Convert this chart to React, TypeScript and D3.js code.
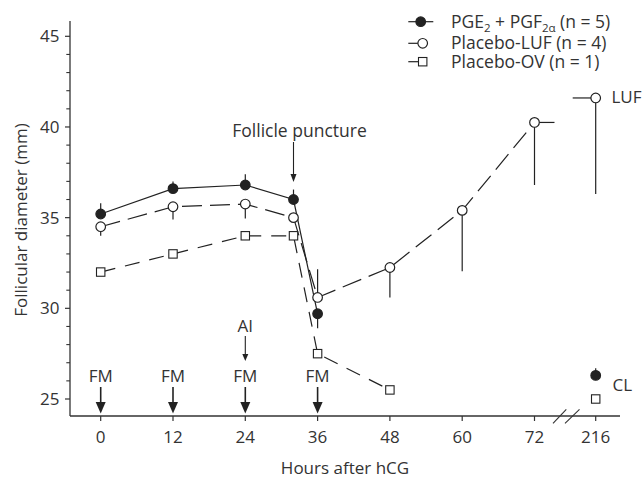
import React from "react";
import * as d3 from "d3";

// ---- data ----
const tickHours = [0, 12, 24, 36, 48, 60, 72, 216];
const yMajor = [25, 30, 35, 40, 45];

const pgeHours = [0, 12, 24, 32, 36, 216];
const pgeMean = [35.2, 36.6, 36.8, 36.0, 29.7, 26.3];
const pgeErr = [35.8, 37.0, 37.4, 36.55, 28.9, 26.7];
const pgeConnected = 5;

const lufHours = [0, 12, 24, 32, 36, 48, 60, 72, 216];
const lufMean = [34.5, 35.6, 35.75, 35.0, 30.6, 32.25, 35.4, 40.25, 41.6];
const lufErr = [34.0, 34.9, 34.95, 35.0, 32.15, 30.6, 32.05, 36.8, 36.3];
const lufConnected = 8;

const ovHours = [0, 12, 24, 32, 36, 48, 216];
const ovMean = [32.0, 33.0, 34.0, 34.0, 27.5, 25.5, 25.0];
const ovConnected = 6;

const fmHours = [0, 12, 24, 36];
const aiHour = 24;
const punctureHour = 32;

const seriesLabels = ["Placebo-LUF (n = 4)", "Placebo-OV (n = 1)"];

// ---- layout ----
const W = 642, H = 480;
const axisX = 70, axisTop = 21, axisY = 416, axisRight = 620;
const INK = "#222";
const TXT = "#333";
const FONT = "'Open Sans', 'Noto Sans', sans-serif";

const x = d3.scaleLinear().domain([0, 72, 216]).range([100.7, 534.5, 595.7]);
const y = d3.scaleLinear().domain([25, 45]).range([399, 36.3]);

export default function App() {
  const line = d3.line<[number, number]>().x(d => x(d[0])).y(d => y(d[1]));
  const pts = (hs: number[], ms: number[], n: number) =>
    hs.slice(0, n).map((h, i) => [h, ms[i]] as [number, number]);

  const minor = d3.range(25, 46, 1).filter(v => v % 5 !== 0);

  const circle = (cx: number, cy: number, filled: boolean, key: string) => (
    <circle key={key} cx={cx} cy={cy} r={4.8} fill={filled ? INK : "#fff"} stroke={INK} strokeWidth={1.2} />
  );
  const square = (cx: number, cy: number, key: string) => (
    <rect key={key} x={cx - 4.2} y={cy - 4.2} width={8.4} height={8.4} fill="#fff" stroke={INK} strokeWidth={1.1} />
  );

  const lufLast = lufHours.length - 1;

  return (
    <svg width={W} height={H} style={{ display: "block", position: "absolute", left: 0, top: 0 }} fontFamily={FONT}>
      <rect width={W} height={H} fill="#fff" />
      {/* y axis */}
      <line x1={axisX} x2={axisX} y1={axisTop} y2={axisY} stroke={TXT} strokeWidth={1.3} />
      {yMajor.map(v => (
        <g key={"ym" + v}>
          <line x1={axisX - 5} x2={axisX} y1={y(v)} y2={y(v)} stroke={TXT} strokeWidth={1.2} />
          <text x={59.5} y={y(v)} dy="0.36em" textAnchor="end" fontSize={17} fill={TXT}>{v}</text>
        </g>
      ))}
      {minor.map(v => (
        <line key={"yn" + v} x1={axisX - 3.7} x2={axisX} y1={y(v)} y2={y(v)} stroke={TXT} strokeWidth={1.1} />
      ))}
      <text transform={`translate(21,220) rotate(-90)`} textAnchor="middle" dy="0.36em" fontSize={17} fill={TXT}>
        Follicular diameter (mm)
      </text>

      {/* x axis */}
      <line x1={axisX} x2={axisRight} y1={axisY} y2={axisY} stroke={TXT} strokeWidth={1.3} />
      {tickHours.map(h => (
        <g key={"xt" + h}>
          <line x1={x(h)} x2={x(h)} y1={axisY} y2={axisY + 5} stroke={TXT} strokeWidth={1.2} />
          <text x={x(h)} y={443} textAnchor="middle" fontSize={17} fill={TXT}>{h}</text>
        </g>
      ))}
      {/* axis break */}
      <line x1={553} y1={423.3} x2={566.3} y2={409.3} stroke={TXT} strokeWidth={1.1} />
      <line x1={565} y1={423.3} x2={579.5} y2={409.3} stroke={TXT} strokeWidth={1.1} />
      <text x={345} y={474} textAnchor="middle" fontSize={17} fill={TXT}>Hours after hCG</text>

      {/* annotations */}
      {fmHours.map(h => (
        <g key={"fm" + h}>
          <text x={x(h)} y={382} textAnchor="middle" fontSize={17} fill={TXT}>FM</text>
          <line x1={x(h)} x2={x(h)} y1={387} y2={404} stroke={INK} strokeWidth={1.6} />
          <path d={`M${x(h) - 5},402 L${x(h) + 5},402 L${x(h)},413.5 Z`} fill={INK} />
        </g>
      ))}
      <text x={x(aiHour)} y={332} textAnchor="middle" fontSize={17} fill={TXT}>AI</text>
      <line x1={x(aiHour)} x2={x(aiHour)} y1={336} y2={357} stroke={INK} strokeWidth={1.1} />
      <path d={`M${x(aiHour) - 3},354 L${x(aiHour) + 3},354 L${x(aiHour)},361 Z`} fill={INK} />

      <text x={x(punctureHour) + 6} y={137} textAnchor="middle" fontSize={17.5} fill={TXT}>Follicle puncture</text>
      <line x1={x(punctureHour)} x2={x(punctureHour)} y1={142} y2={177} stroke={INK} strokeWidth={1.1} />
      <path d={`M${x(punctureHour) - 3},174 L${x(punctureHour) + 3},174 L${x(punctureHour)},182 Z`} fill={INK} />

      {/* series lines */}
      <path d={line(pts(ovHours, ovMean, ovConnected)) || ""} fill="none" stroke={INK} strokeWidth={1.2} strokeDasharray="15,10" />
      <path d={line(pts(lufHours, lufMean, lufConnected)) || ""} fill="none" stroke={INK} strokeWidth={1.2} strokeDasharray="20,8" />
      <path d={line(pts(pgeHours, pgeMean, pgeConnected)) || ""} fill="none" stroke={INK} strokeWidth={1.2} />
      {/* LUF stubs across the break */}
      <line x1={x(lufHours[lufConnected - 1])} x2={x(lufHours[lufConnected - 1]) + 20}
        y1={y(lufMean[lufConnected - 1])} y2={y(lufMean[lufConnected - 1])} stroke={INK} strokeWidth={1.2} />
      <line x1={x(lufHours[lufLast]) - 23} x2={x(lufHours[lufLast])}
        y1={y(lufMean[lufLast])} y2={y(lufMean[lufLast])} stroke={INK} strokeWidth={1.2} />

      {/* error bars */}
      {pgeHours.map((h, i) => (
        <line key={"pe" + i} x1={x(h)} x2={x(h)} y1={y(pgeMean[i])} y2={y(pgeErr[i])} stroke={INK} strokeWidth={1.2} />
      ))}
      {lufHours.map((h, i) => (
        <line key={"le" + i} x1={x(h)} x2={x(h)} y1={y(lufMean[i])} y2={y(lufErr[i])} stroke={INK} strokeWidth={1.2} />
      ))}

      {/* markers */}
      {ovHours.map((h, i) => square(x(h), y(ovMean[i]), "os" + i))}
      {lufHours.map((h, i) => circle(x(h), y(lufMean[i]), false, "lc" + i))}
      {pgeHours.map((h, i) => circle(x(h), y(pgeMean[i]), true, "pc" + i))}

      {/* end labels */}
      <text x={611.5} y={103} fontSize={17} fill={TXT}>LUF</text>
      <text x={612.5} y={391} fontSize={17} fill={TXT}>CL</text>

      {/* legend */}
      <g fontSize={17.5} fill={TXT}>
        <line x1={408.3} x2={433.3} y1={21.7} y2={21.7} stroke={INK} strokeWidth={1.2} />
        {circle(420.7, 21.7, true, "lg1")}
        <text x={451} y={28.3}>
          PGE<tspan dy={4} fontSize={11.5}>2</tspan>
          <tspan dy={-4}> + PGF</tspan>
          <tspan dy={4} fontSize={11.5}>2α</tspan>
          <tspan dy={-4}> (n = 5)</tspan>
        </text>
        <line x1={408.3} x2={418} y1={43.3} y2={43.3} stroke={INK} strokeWidth={1.2} />
        {circle(422.7, 43.3, false, "lg2")}
        <text x={451} y={49.3}>{seriesLabels[0]}</text>
        <line x1={408.3} x2={418} y1={61.7} y2={61.7} stroke={INK} strokeWidth={1.2} />
        {square(422.7, 61.7, "lg3")}
        <text x={451} y={68.3}>{seriesLabels[1]}</text>
      </g>
    </svg>
  );
}
